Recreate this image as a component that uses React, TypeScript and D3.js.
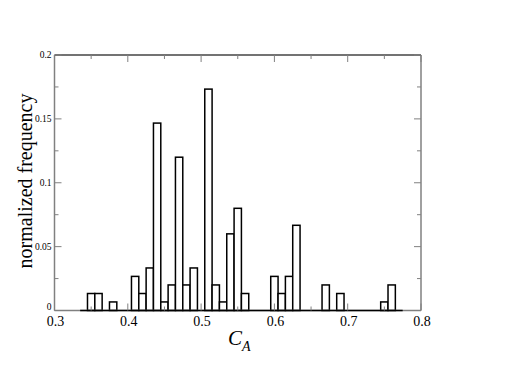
import React from "react";
import * as d3 from "d3";

const binCenters = [0.35, 0.36, 0.38, 0.41, 0.42, 0.43, 0.44, 0.45, 0.46, 0.47, 0.48, 0.49, 0.51, 0.52, 0.53, 0.54, 0.55, 0.56, 0.60, 0.61, 0.62, 0.63, 0.67, 0.69, 0.75, 0.76];
const frequencies = [0.0133, 0.0133, 0.0067, 0.0267, 0.0133, 0.0333, 0.1467, 0.0067, 0.02, 0.12, 0.02, 0.0333, 0.1733, 0.02, 0.0067, 0.06, 0.08, 0.0133, 0.0267, 0.0133, 0.0267, 0.0667, 0.02, 0.0133, 0.0067, 0.02];
const binWidth = 0.01;
const baselineRange = [0.335, 0.775];
const xMajorTicks = [0.3, 0.4, 0.5, 0.6, 0.7, 0.8];
const xMinorTicks = [0.35, 0.45, 0.55, 0.65, 0.75];
const yMajorTicks = [0, 0.05, 0.1, 0.15, 0.2];
const yMinorTicks = [0.025, 0.075, 0.125, 0.175];
const yTickLabels = ["0", "0.05", "0.1", "0.15", "0.2"];
const xTickLabels = ["0.3", "0.4", "0.5", "0.6", "0.7", "0.8"];

export default function App() {
  const W = 518, H = 366;
  const left = 54.5, right = 421, top = 55, bottom = 310.5;
  const x = d3.scaleLinear().domain([0.3, 0.8]).range([left, right]);
  const y = d3.scaleLinear().domain([0, 0.2]).range([bottom, top]);
  const axisColor = "#808080";
  const serif = "'Liberation Serif', 'DejaVu Serif', serif";
  return (
    <svg width={W} height={H} style={{ position: "absolute", left: 0, top: 0 }}>
      <rect x={0} y={0} width={W} height={H} fill="#fff" />
      {/* bars */}
      {binCenters.map((c, i) => (
        <rect
          key={i}
          x={x(c - binWidth / 2)}
          y={y(frequencies[i])}
          width={x(c + binWidth / 2) - x(c - binWidth / 2)}
          height={y(0) - y(frequencies[i])}
          fill="#fff"
          stroke="#000"
          strokeWidth={1.5}
        />
      ))}
      {/* frame */}
      <line x1={left} x2={right} y1={bottom} y2={bottom} stroke={axisColor} strokeWidth={1.5} />
      <line x1={left} x2={left} y1={top} y2={bottom} stroke={axisColor} strokeWidth={1.5} />
      <line x1={right} x2={right} y1={top} y2={bottom} stroke={axisColor} strokeWidth={1.5} />
      <line x1={left} x2={right} y1={top} y2={top} stroke="#444" strokeWidth={1.5} />
      <line x1={x(baselineRange[0])} x2={x(baselineRange[1])} y1={bottom} y2={bottom} stroke="#000" strokeWidth={1.5} />
      {/* x ticks */}
      {xMajorTicks.map((t, i) => (
        <g key={"xm" + i}>
          <line x1={x(t)} x2={x(t)} y1={bottom} y2={bottom - 7} stroke={axisColor} />
          <line x1={x(t)} x2={x(t)} y1={top} y2={top + 7} stroke={axisColor} />
        </g>
      ))}
      {xMinorTicks.map((t, i) => (
        <g key={"xn" + i}>
          <line x1={x(t)} x2={x(t)} y1={bottom} y2={bottom - 4} stroke={axisColor} />
          <line x1={x(t)} x2={x(t)} y1={top} y2={top + 4} stroke={axisColor} />
        </g>
      ))}
      {/* y ticks */}
      {yMajorTicks.map((t, i) => (
        <g key={"ym" + i}>
          <line x1={left} x2={left + 7} y1={y(t)} y2={y(t)} stroke={axisColor} />
          <line x1={right} x2={right - 7} y1={y(t)} y2={y(t)} stroke={axisColor} />
        </g>
      ))}
      {yMinorTicks.map((t, i) => (
        <g key={"yn" + i}>
          <line x1={left} x2={left + 4} y1={y(t)} y2={y(t)} stroke={axisColor} />
          <line x1={right} x2={right - 4} y1={y(t)} y2={y(t)} stroke={axisColor} />
        </g>
      ))}
      {/* tick labels */}
      {yMajorTicks.map((t, i) => (
        <text key={"yl" + i} x={left - 3} y={y(t) + (i === 0 ? -1 : 3)} textAnchor="end" fontFamily={serif} fontSize={9.5} fill="#000">
          {yTickLabels[i]}
        </text>
      ))}
      {xMajorTicks.map((t, i) => (
        <text key={"xl" + i} x={x(t) + 1} y={325.5} textAnchor="middle" fontFamily={serif} fontSize={14} fill="#000">
          {xTickLabels[i]}
        </text>
      ))}
      {/* axis titles */}
      <text x={228} y={345} fontFamily={serif} fontSize={21} fontStyle="italic" fill="#000">
        C<tspan fontSize={14} dy={6}>A</tspan>
      </text>
      <text transform={`translate(32,181) rotate(-90)`} textAnchor="middle" fontFamily={serif} fontSize={20} fill="#000">
        normalized frequency
      </text>
    </svg>
  );
}
